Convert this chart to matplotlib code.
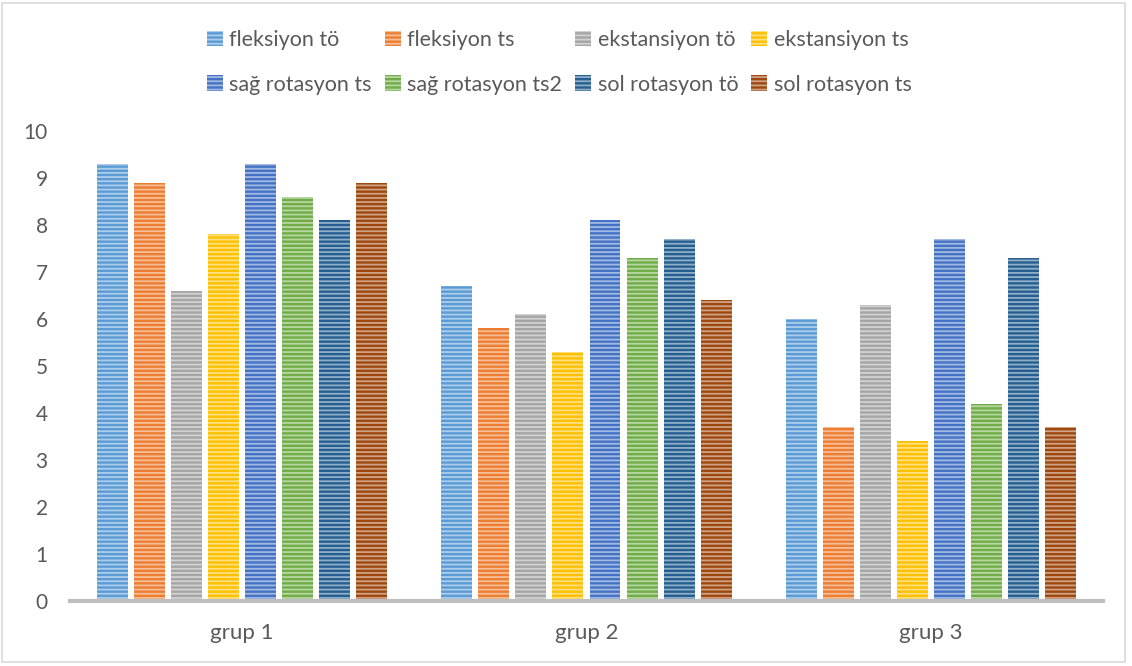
import matplotlib
matplotlib.use("Agg")
import matplotlib.pyplot as plt
import matplotlib.colors as mcolors
from matplotlib.patches import Rectangle
import numpy as np

plt.rcParams['font.family'] = ['Lato', 'DejaVu Sans']
plt.rcParams['hatch.linewidth'] = 1.3

groups = ['grup 1', 'grup 2', 'grup 3']
series = ['fleksiyon tö', 'fleksiyon ts', 'ekstansiyon tö', 'ekstansiyon ts',
          'sağ rotasyon ts', 'sağ rotasyon ts2', 'sol rotasyon tö', 'sol rotasyon ts']
fleksiyon_to = [9.3, 6.7, 6.0]
fleksiyon_ts = [8.9, 5.8, 3.7]
ekstansiyon_to = [6.6, 6.1, 6.3]
ekstansiyon_ts = [7.8, 5.3, 3.4]
sag_rot_ts = [9.3, 8.1, 7.7]
sag_rot_ts2 = [8.6, 7.3, 4.2]
sol_rot_to = [8.1, 7.7, 7.3]
sol_rot_ts = [8.9, 6.4, 3.7]
values = [fleksiyon_to, fleksiyon_ts, ekstansiyon_to, ekstansiyon_ts,
          sag_rot_ts, sag_rot_ts2, sol_rot_to, sol_rot_ts]
colors = ['#5B9BD5', '#ED7D31', '#A5A5A5', '#FFC000',
          '#4472C4', '#70AD47', '#255E91', '#9E480E']

fig = plt.figure(figsize=(11.32, 6.66), dpi=100)
ax = fig.add_axes([0.0618, 0.0976, 0.9126, 0.7057])

x = np.arange(len(groups))
pitch = 0.1075
width = 0.09
handles = []
for j, (name, vals, c) in enumerate(zip(series, values, colors)):
    light = 0.5 * np.array(mcolors.to_rgb(c)) + 0.5
    b = ax.bar(x + (j - 3.5) * pitch, vals, width, color=c, edgecolor=light,
               hatch='----', linewidth=0, label=name, zorder=2)
    handles.append(b)

ax.set_xlim(-0.5, 2.5)
ax.set_ylim(0, 10)
ax.set_yticks(range(0, 11))
ax.set_xticks(x)
ax.set_xticklabels(groups)
ax.tick_params(length=0, colors='#595959')
ax.tick_params(axis='y', pad=16, labelsize=15)
ax.tick_params(axis='x', pad=16, labelsize=16)
for s in ['top', 'right', 'left']:
    ax.spines[s].set_visible(False)
ax.spines['bottom'].set_color('#BFBFBF')
ax.spines['bottom'].set_linewidth(3)
ax.spines['bottom'].set_zorder(3)

order = [0, 4, 1, 5, 2, 6, 3, 7]
leg = fig.legend([handles[i] for i in order], [series[i] for i in order],
                 ncol=4, loc='upper center', bbox_to_anchor=(0.494, 0.984),
                 frameon=False, fontsize=15.5, labelspacing=1.15,
                 handlelength=0.75, handleheight=0.75, handletextpad=0.3,
                 columnspacing=0.6, labelcolor='#595959')

fig.patches.append(Rectangle((0.002, 0.006), 0.992, 0.99, transform=fig.transFigure,
                             fill=False, edgecolor='#D9D9D9', linewidth=1.2))

fig.savefig('out.png', dpi=100)
